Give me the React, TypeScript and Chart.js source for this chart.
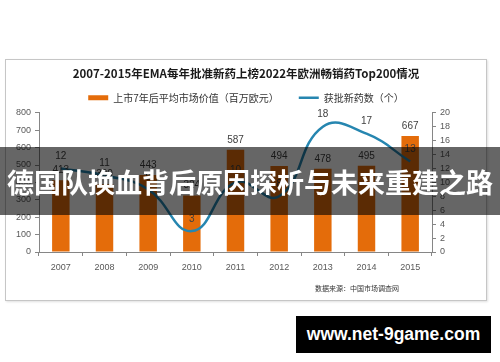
import React, { useEffect, useRef } from "react";
import { Chart, registerables } from "chart.js";

Chart.register(...registerables);

const categories = ["2007", "2008", "2009", "2010", "2011", "2012", "2013", "2014", "2015"];
const marketValue = [413, 390, 443, 324, 587, 494, 478, 495, 667];
const approvals = [12, 11, 9, 3, 10, 8, 18, 17, 13];
const leftTicks = { min: 0, max: 800, step: 100 };
const rightTicks = { min: 0, max: 20, step: 2 };

const titleText = "2007-2015年EMA每年批准新药上榜2022年欧洲畅销药Top200情况";
const barLabel = "上市7年后平均市场价值（百万欧元）";
const lineLabel = "获批新药数（个）";
const sourceText = "数据来源：中国市场调查网";
const bannerText = "德国队换血背后原因探析与未来重建之路";
const siteText = "www.net-9game.com";

const ORANGE = "#E46C0A";
const BLUE = "#2686b0";
const AXIS = "#868686";
const CJK = '"Noto Sans CJK SC", "Liberation Sans", sans-serif';
const NUM = '"Liberation Sans", Arial, sans-serif';

const valueLabels = {
  id: "valueLabels",
  afterDatasetsDraw(chart: any) {
    const ctx = chart.ctx;
    ctx.save();
    ctx.font = `10px ${NUM}`;
    ctx.fillStyle = "#404040";
    ctx.textAlign = "center";
    ctx.textBaseline = "bottom";
    chart.data.datasets.forEach((ds: any, di: number) => {
      const meta = chart.getDatasetMeta(di);
      meta.data.forEach((el: any, i: number) => {
        const off = ds.type === "line" ? 7 : 5;
        ctx.fillText(String(ds.data[i]), el.x, el.y - off);
      });
    });
    ctx.restore();
  },
};

export default function App() {
  const ref = useRef<HTMLCanvasElement | null>(null);

  useEffect(() => {
    document.body.style.margin = "0";
    if (!ref.current) return;
    const chart = new Chart(ref.current, {
      type: "bar",
      data: {
        labels: categories,
        datasets: [
          {
            type: "bar",
            label: barLabel,
            data: marketValue,
            backgroundColor: ORANGE,
            borderWidth: 0,
            yAxisID: "y",
            order: 1,
            barPercentage: 0.4,
            categoryPercentage: 1,
            pointStyle: "rect",
          } as any,
          {
            type: "line",
            label: lineLabel,
            data: approvals,
            borderColor: BLUE,
            backgroundColor: BLUE,
            borderWidth: 2.5,
            pointRadius: 0,
            pointStyle: "line",
            tension: 0.45,
            yAxisID: "y1",
            order: 0,
          } as any,
        ],
      },
      options: {
        animation: false,
        responsive: false,
        devicePixelRatio: 1,
        layout: { padding: 0 },
        plugins: {
          title: {
            display: true,
            text: titleText,
            color: "#1a1a1a",
            font: { family: CJK, size: 11.5, weight: "bold" },
            padding: { top: 7, bottom: -8 },
          },
          legend: {
            display: true,
            labels: {
              usePointStyle: true,
              pointStyleWidth: 20,
              boxHeight: 5,
              padding: 20,
              color: "#333",
              font: { family: CJK, size: 10 },
              sort: (a: any, b: any) => a.datasetIndex - b.datasetIndex,
            },
          },
          tooltip: { enabled: false },
        },
        scales: {
          x: {
            offset: true,
            grid: { display: true, drawOnChartArea: false, drawTicks: true, tickLength: 4, color: AXIS, offset: true },
            border: { display: true, color: AXIS },
            ticks: { color: "#595959", font: { family: NUM, size: 9 }, padding: 6 },
            afterFit: (s: any) => { s.height = 48; },
          },
          y: {
            position: "left",
            min: leftTicks.min,
            max: leftTicks.max,
            grid: { display: true, drawOnChartArea: false, drawTicks: true, tickLength: 4, color: AXIS },
            border: { display: true, color: AXIS },
            ticks: { stepSize: leftTicks.step, color: "#595959", font: { family: NUM, size: 9 }, padding: 4 },
            afterFit: (s: any) => { s.width = 33; },
          },
          y1: {
            position: "right",
            min: rightTicks.min,
            max: rightTicks.max,
            grid: { display: true, drawOnChartArea: false, drawTicks: true, tickLength: 4, color: AXIS },
            border: { display: true, color: AXIS },
            ticks: { stepSize: rightTicks.step, color: "#595959", font: { family: NUM, size: 9 }, padding: 4 },
            afterFit: (s: any) => { s.width = 54; },
          },
        },
      } as any,
      plugins: [valueLabels],
    });
    return () => chart.destroy();
  }, []);

  return (
    <div style={{ position: "relative", width: 500, height: 362, background: "#fff", overflow: "hidden" }}>
      <div
        style={{
          position: "absolute",
          left: 5,
          top: 59,
          width: 480,
          height: 240,
          border: "1px solid #c6c6c6",
          boxShadow: "1px 1px 2px rgba(0,0,0,0.12)",
        }}
      />
      <canvas
        ref={ref}
        width={480}
        height={240}
        style={{ position: "absolute", left: 6, top: 60, width: 480, height: 240 }}
      />
      <div
        style={{
          position: "absolute",
          left: 315,
          top: 283,
          fontFamily: CJK,
          fontSize: 7,
          color: "#333",
          whiteSpace: "nowrap",
        }}
      >
        {sourceText}
      </div>
      <div
        style={{
          position: "absolute",
          left: 0,
          top: 147,
          width: 500,
          height: 68,
          background: "rgba(0,0,0,0.6)",
          display: "flex",
          alignItems: "center",
          justifyContent: "center",
        }}
      >
        <span
          style={{
            color: "#fff",
            fontFamily: CJK,
            fontWeight: 700,
            fontSize: 27,
            whiteSpace: "nowrap",
            lineHeight: 1,
          }}
        >
          {bannerText}
        </span>
      </div>
      <div
        style={{
          position: "absolute",
          left: 296,
          top: 316,
          width: 195,
          height: 37,
          background: "#000",
          display: "flex",
          alignItems: "center",
          justifyContent: "center",
        }}
      >
        <span
          style={{
            color: "#fff",
            fontFamily: NUM,
            fontWeight: 700,
            fontSize: 17.5,
            whiteSpace: "nowrap",
          }}
        >
          {siteText}
        </span>
      </div>
    </div>
  );
}
